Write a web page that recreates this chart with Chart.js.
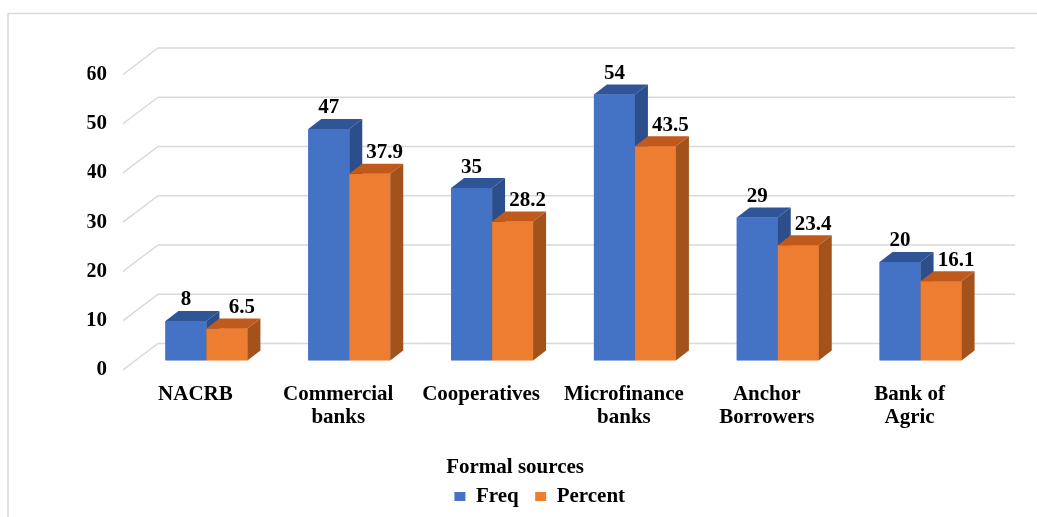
<!DOCTYPE html>
<html><head><meta charset="utf-8">
<script src="https://cdn.jsdelivr.net/npm/chart.js@4/dist/chart.umd.min.js"></script>
<style>html,body{margin:0;padding:0;background:#fff;}#wrap{width:1037px;height:517px;position:relative;}</style>
</head><body><div id="wrap"><canvas id="c"></canvas></div>
<script>
// ---- data ----
const categories = ['NACRB', ['Commercial', 'banks'], 'Cooperatives', ['Microfinance', 'banks'], ['Anchor', 'Borrowers'], ['Bank of', 'Agric']];
const freqValues = [8, 47, 35, 54, 29, 20];
const percentValues = [6.5, 37.9, 28.2, 43.5, 23.4, 16.1];
const seriesNames = ['Freq', 'Percent'];
const yTicks = [0, 10, 20, 30, 40, 50, 60];
const axisTitle = 'Formal sources';

// ---- styles ----
const FONT = "'Liberation Serif', 'Times New Roman', serif";
const frontColors = ['#4472C4', '#ED7D31'];
const topColors = ['#2F5597', '#C05A1C'];
const sideColors = ['#2C4E8A', '#A3521C'];
const labelShift = [0, 15];
const DEPTH = {dx: 13, dy: -10};
const WALL = {dx: 23, dy: -17};
const FRONT = {dx: -12, dy: 9.5};
const GRID = '#D9D9D9';

const bar3d = {
  id: 'bar3d',
  beforeDraw(chart) {
    const ctx = chart.ctx;
    ctx.save();
    ctx.strokeStyle = GRID; ctx.lineWidth = 1.5;
    ctx.beginPath();
    ctx.moveTo(8, 517); ctx.lineTo(8, 13.5); ctx.lineTo(1037, 13.5);
    ctx.stroke();
    ctx.restore();
  },
  beforeDatasetsDraw(chart) {
    const ctx = chart.ctx, ys = chart.scales.y, a = chart.chartArea;
    ctx.save();
    ctx.strokeStyle = GRID; ctx.lineWidth = 1.5;
    ys.ticks.forEach(t => {
      const y = ys.getPixelForValue(t.value);
      ctx.beginPath();
      ctx.moveTo(a.left + FRONT.dx, y + FRONT.dy);
      ctx.lineTo(a.left + WALL.dx, y + WALL.dy);
      ctx.lineTo(a.right + WALL.dx, y + WALL.dy);
      ctx.stroke();
    });
    ctx.restore();
  },
  afterDatasetsDraw(chart) {
    const ctx = chart.ctx;
    const n = chart.data.labels.length;
    ctx.save();
    for (let i = 0; i < n; i++) {
      chart.data.datasets.forEach((ds, d) => {
        const el = chart.getDatasetMeta(d).data[i];
        const {x, y, base, width} = el.getProps(['x', 'y', 'base', 'width'], true);
        const l = x - width / 2, r = x + width / 2;
        ctx.fillStyle = frontColors[d];
        ctx.fillRect(l, y, width, base - y);
        ctx.fillStyle = topColors[d];
        ctx.beginPath();
        ctx.moveTo(l, y); ctx.lineTo(l + DEPTH.dx, y + DEPTH.dy);
        ctx.lineTo(r + DEPTH.dx, y + DEPTH.dy); ctx.lineTo(r, y);
        ctx.closePath(); ctx.fill();
        ctx.fillStyle = sideColors[d];
        ctx.beginPath();
        ctx.moveTo(r, y); ctx.lineTo(r + DEPTH.dx, y + DEPTH.dy);
        ctx.lineTo(r + DEPTH.dx, base + DEPTH.dy); ctx.lineTo(r, base);
        ctx.closePath(); ctx.fill();
      });
    }
    ctx.fillStyle = '#000';
    ctx.font = 'bold 21px ' + FONT;
    ctx.textAlign = 'center'; ctx.textBaseline = 'middle';
    chart.data.datasets.forEach((ds, d) => {
      chart.getDatasetMeta(d).data.forEach((el, i) => {
        const {x, y} = el.getProps(['x', 'y'], true);
        ctx.fillText(String(ds.data[i]), x + labelShift[d], y - 21);
      });
    });
    ctx.restore();
  }
};

new Chart(document.getElementById('c'), {
  type: 'bar',
  data: {
    labels: categories,
    datasets: [
      {label: seriesNames[0], data: freqValues, backgroundColor: frontColors[0], borderWidth: 0},
      {label: seriesNames[1], data: percentValues, backgroundColor: frontColors[1], borderWidth: 0}
    ]
  },
  options: {
    responsive: true, maintainAspectRatio: false, animation: false,
    categoryPercentage: 0.574, barPercentage: 1,
    layout: {padding: {left: 87.5, right: 45, top: 65, bottom: 0}},
    plugins: {
      tooltip: {enabled: false},
      legend: {
        position: 'bottom', align: 'center',
        title: {display: true, text: axisTitle, position: 'start', color: '#000',
          font: {family: FONT, size: 21, weight: 'bold', lineHeight: 0.6}, padding: {top: 4, bottom: 0}},
        labels: {boxWidth: 11, boxHeight: 9, padding: 16.5, color: '#000',
          font: {family: FONT, size: 21, weight: 'bold'}}
      }
    },
    scales: {
      x: {
        grid: {display: false, drawTicks: false}, border: {display: false},
        ticks: {color: '#000', font: {family: FONT, size: 21, weight: 'bold', lineHeight: 1.1},
          padding: 22.5, labelOffset: -11, maxRotation: 0, autoSkip: false},
        afterFit(s) { s.height = 92.5; }
      },
      y: {
        min: 0, max: 60,
        grid: {display: false, drawTicks: false}, border: {display: false},
        ticks: {color: '#000', font: {family: FONT, size: 21, weight: 'bold'}, padding: 28, labelOffset: 9.5},
        afterBuildTicks(s) { s.ticks = yTicks.map(v => ({value: v})); },
        afterFit(s) { s.width = 47.5; }
      }
    }
  },
  plugins: [bar3d]
});
</script></body></html>
